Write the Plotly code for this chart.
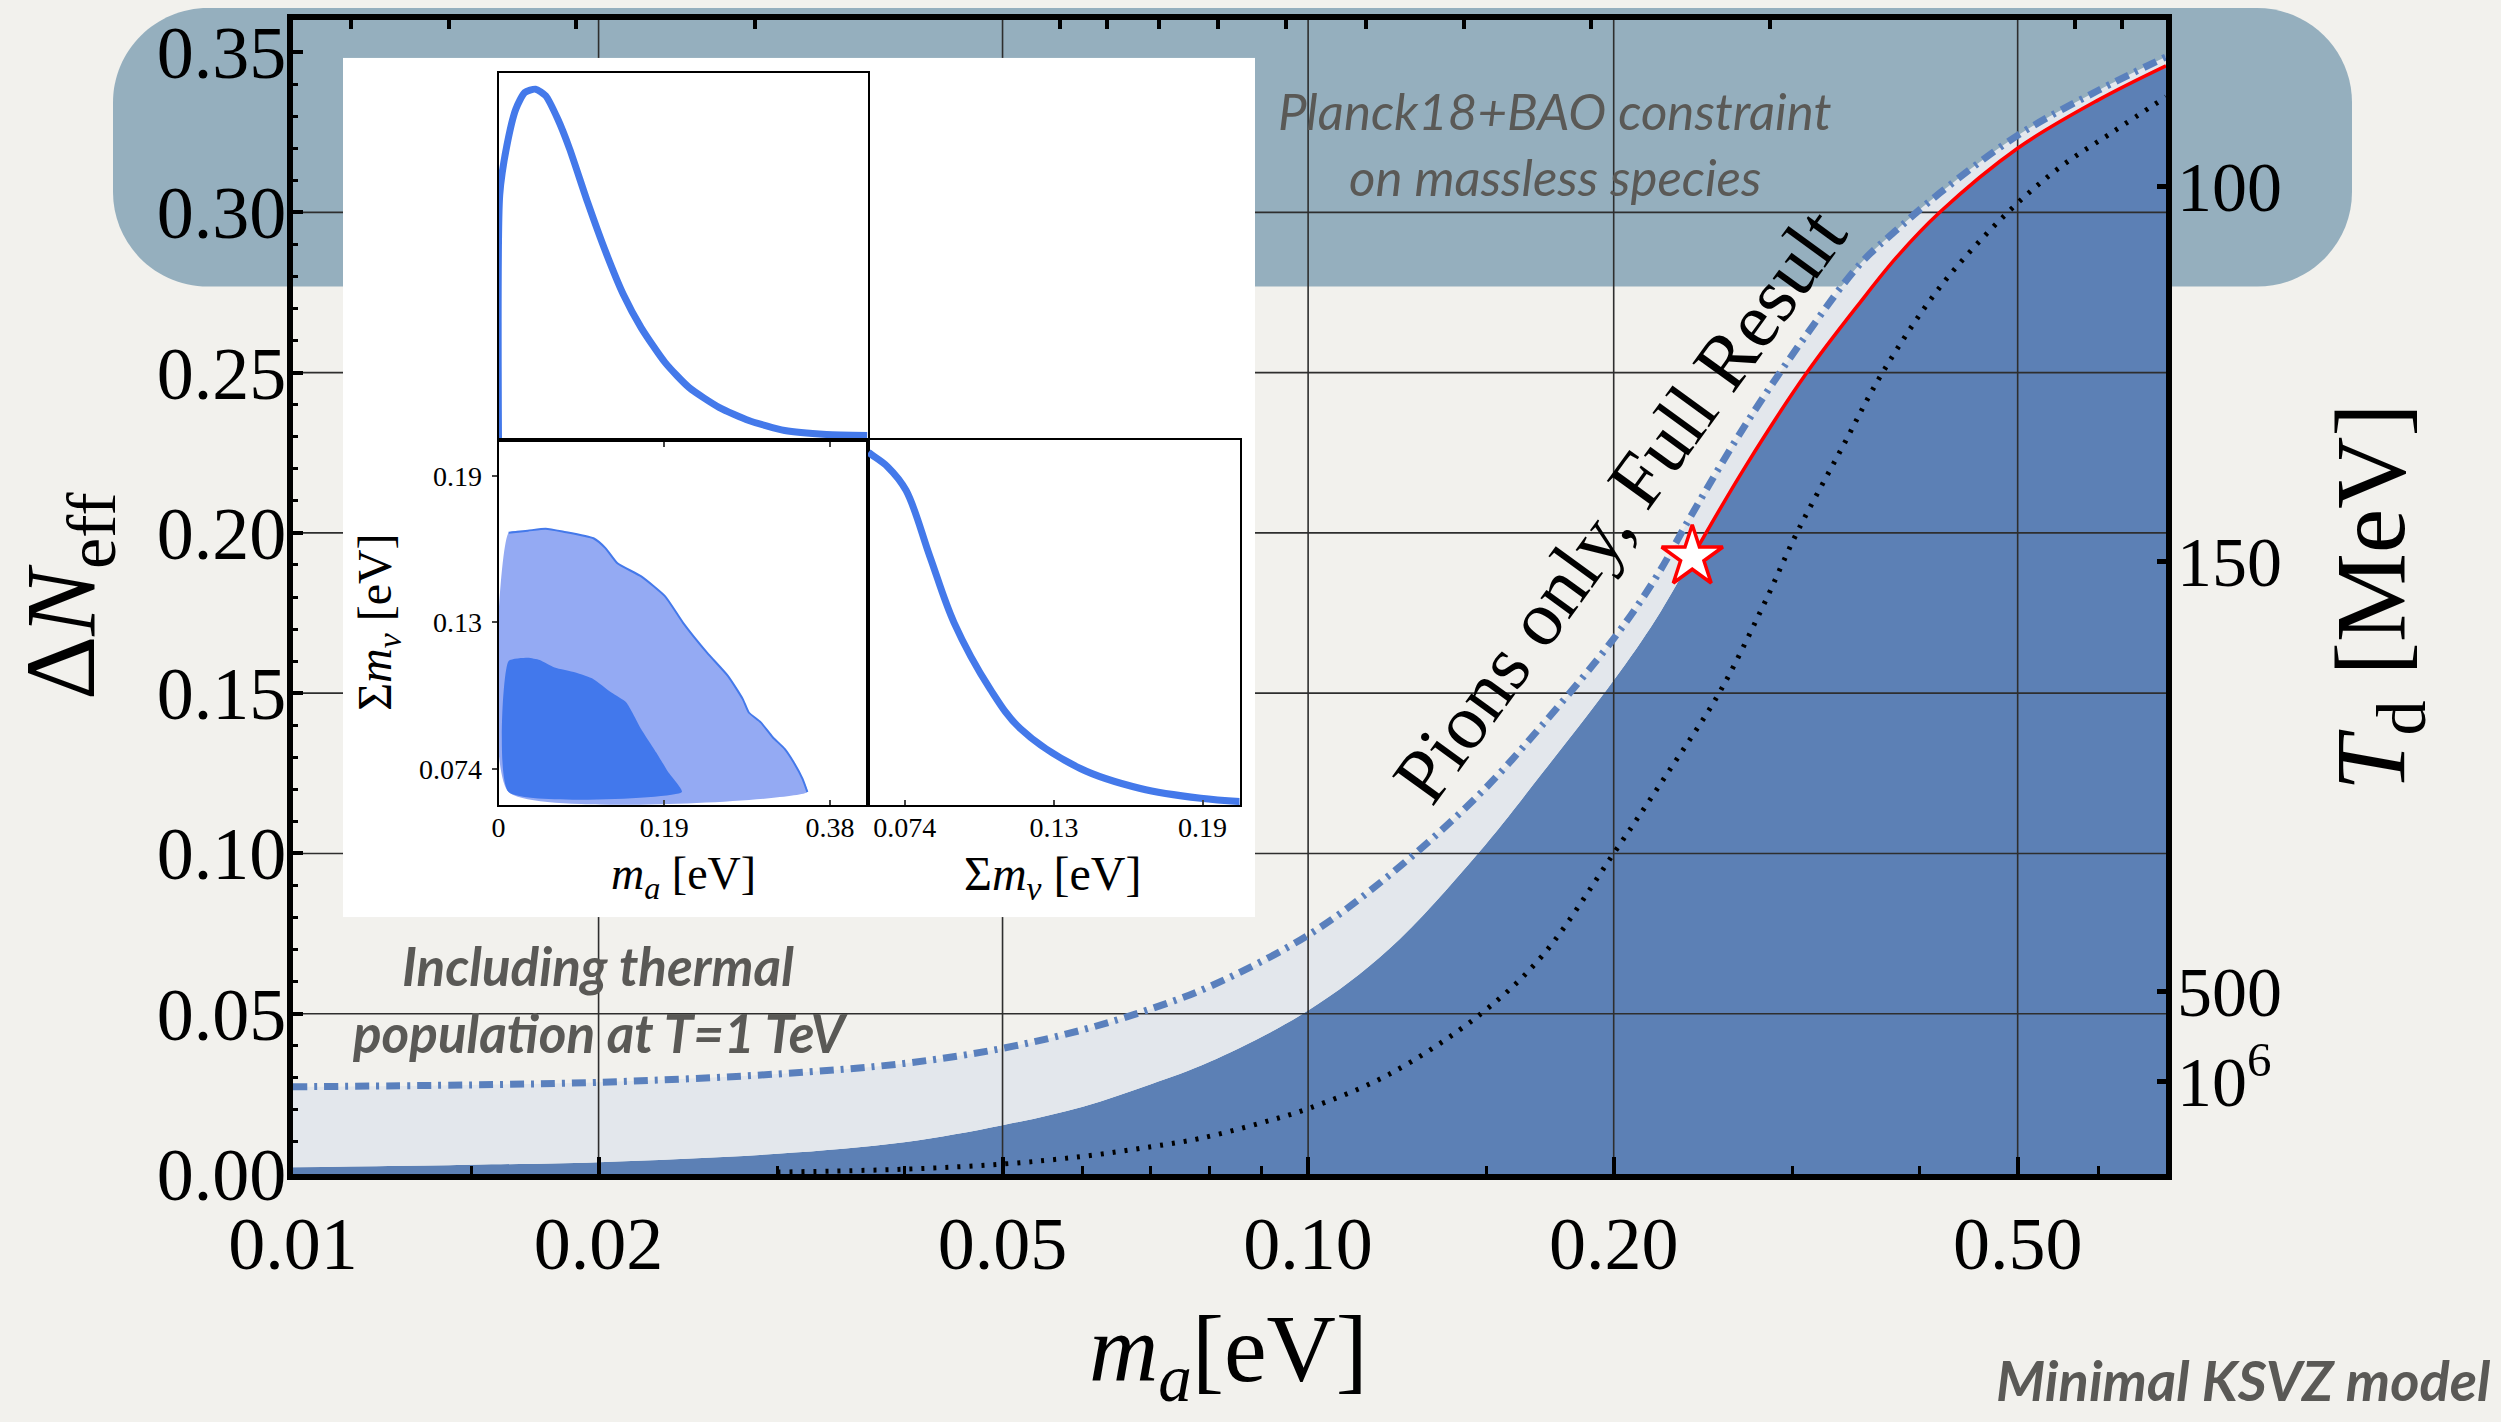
import numpy as np
import plotly.graph_objects as go

# ------------------------------------------------------------------ data
# main panel: axion mass m_a [eV]
m_a = [0.01, 0.015, 0.02, 0.03, 0.04, 0.05, 0.06, 0.07, 0.08, 0.1, 0.12, 0.147,
       0.17, 0.2, 0.22, 0.239, 0.27, 0.31, 0.35, 0.38, 0.419, 0.5, 0.6, 0.7]
# Full result (upper edge of dark band)
dneff_full = [0.0021, 0.0029, 0.0037, 0.0063, 0.0099, 0.0152, 0.021, 0.028, 0.035,
              0.051, 0.070, 0.100, 0.125, 0.154, 0.173, 0.1925, 0.221, 0.250, 0.272,
              0.286, 0.300, 0.320, 0.335, 0.3457]
# including thermal population at T = 1 TeV (dash-dot)
dneff_thermal = [0.0272, 0.0278, 0.0286, 0.0312, 0.0345, 0.0392, 0.045, 0.0515, 0.0585,
                 0.0745, 0.093, 0.118, 0.140, 0.167, 0.186, 0.206, 0.234, 0.262, 0.284,
                 0.2945, 0.306, 0.324, 0.338, 0.3485]
# red (validity region of full result)
m_a_red = [0.239, 0.27, 0.31, 0.35, 0.38, 0.419, 0.5, 0.6, 0.7]
dneff_red = [0.1925, 0.221, 0.250, 0.272, 0.286, 0.300, 0.320, 0.335, 0.3457]
# pions only (dotted)
m_a_pions = [0.03, 0.04, 0.05, 0.06, 0.07, 0.078, 0.09, 0.1, 0.12, 0.148, 0.17, 0.2,
             0.227, 0.254, 0.28, 0.303, 0.335, 0.368, 0.42, 0.489, 0.55, 0.62, 0.7]
dneff_pions = [0.0006, 0.0015, 0.0031, 0.0055, 0.0085, 0.011, 0.016, 0.0204, 0.031,
               0.050, 0.068, 0.100, 0.126, 0.150, 0.1765, 0.200, 0.226, 0.250, 0.277,
               0.300, 0.314, 0.325, 0.336]
star_m_a = [0.239]
star_dneff = [0.1925]

# axes
x_range = [0.01, 0.70]
y_range = [0.0, 0.36]
x_major = [0.01, 0.02, 0.05, 0.1, 0.2, 0.5]
x_major_text = ["0.01", "0.02", "0.05", "0.10", "0.20", "0.50"]
x_minor = [0.015, 0.03, 0.04, 0.06, 0.07, 0.08, 0.09, 0.15, 0.3, 0.4, 0.6]
y_major = [0.00, 0.05, 0.10, 0.15, 0.20, 0.25, 0.30, 0.35]
grid_x = [0.02, 0.05, 0.1, 0.2, 0.5]
grid_y = [0.05, 0.10, 0.15, 0.20, 0.25, 0.30]
# right axis: decoupling temperature T_d [MeV] at Delta N_eff positions
td_text = ["100", "150", "500", "10<sup>6</sup>"]
td_pos = [0.308, 0.191, 0.057, 0.029]
# top axis: f_a ticks [GeV], m_a = 5.70 eV * 1e6 GeV / f_a
fa_ticks_gev = [5e8, 4e8, 3e8, 2e8, 1e8, 9e7, 8e7, 7e7, 6e7, 5e7, 4e7, 3e7, 2e7, 1e7, 9e6]
ma_fa_const = 5.70e6

# inset: 1D posterior of m_a
ins_ma = [0.0, 0.0014, 0.0096, 0.0199, 0.0301, 0.0425, 0.0541, 0.0678, 0.0815, 0.1020,
          0.1226, 0.1431, 0.1636, 0.1910, 0.2184, 0.2527, 0.2869, 0.3280, 0.3759, 0.4225]
ins_ma_p = [0.0, 0.668, 0.803, 0.903, 0.948, 0.957, 0.939, 0.876, 0.794, 0.649,
            0.514, 0.396, 0.305, 0.210, 0.142, 0.088, 0.052, 0.0245, 0.0136, 0.0109]
# inset: 1D posterior of sum m_nu
ins_mnu = [0.0602, 0.0619, 0.0677, 0.0748, 0.0841, 0.0935, 0.1076, 0.1193, 0.1427,
           0.1661, 0.1896, 0.2053]
ins_mnu_p = [0.965, 0.956, 0.925, 0.861, 0.680, 0.499, 0.317, 0.209, 0.0997,
             0.045, 0.018, 0.009]
# inset: 2D contours (m_a, sum m_nu)
c95_ma = [0.0116, 0.0336, 0.0541, 0.0746, 0.1089, 0.1226, 0.1363, 0.1636, 0.1910, 0.2116,
          0.2390, 0.2629, 0.2800, 0.2869, 0.3006, 0.3143, 0.3280, 0.3383, 0.3485, 0.3540]
c95_mnu = [0.1678, 0.1686, 0.1694, 0.1682, 0.1656, 0.1617, 0.1557, 0.1505, 0.1426, 0.1321,
           0.1203, 0.1111, 0.1019, 0.0966, 0.0927, 0.0868, 0.0822, 0.0769, 0.0703, 0.0651]
c68_ma = [0.0116, 0.0336, 0.0472, 0.0644, 0.0883, 0.1089, 0.1294, 0.1465, 0.1636,
          0.1808, 0.1945, 0.2102]
c68_mnu = [0.1170, 0.1183, 0.1174, 0.1144, 0.1124, 0.1098, 0.1045, 0.1006, 0.0900,
           0.0808, 0.0730, 0.0651]
contour_floor = 0.0651
ins_ma_range = [0.0, 0.4235]
ins_mnu_range = [0.060, 0.2047]
ins_ma_ticks = [0.0, 0.19, 0.38]
ins_ma_ticktext = ["0", "0.19", "0.38"]
ins_mnu_ticks = [0.0743, 0.1324, 0.1903]
ins_mnu_ticktext = ["0.074", "0.13", "0.19"]

# ------------------------------------------------------------------ style / layout helpers
W, H = 2501, 1422
L, R, T, B = 293, 2166, 14, 1174          # main plot box (pixels)
SERIF = "Liberation Serif"
SANS = "Lato"
BG = "#f2f1ed"
BAND = "#95afbe"
DARK = "#5c80b5"
LIGHT = "#e3e7ec"
DASH = "#5a80bd"
INS = "#4479ea"
GRAY = "#5a5956"


def px_x(px):
    return (px - L) / (R - L)


def px_y(py):
    return (B - py) / (B - T)


def dom_x(p0, p1):
    return [px_x(p0), px_x(p1)]


def dom_y(top, bottom):
    return [px_y(bottom), px_y(top)]


fig = go.Figure()

# dark band (full result)
fig.add_trace(go.Scatter(x=m_a, y=dneff_full, mode="lines", line=dict(width=0, shape="spline"),
                         fill="tozeroy", fillcolor=DARK, xaxis="x", yaxis="y"))
# light band up to thermal-population curve
fig.add_trace(go.Scatter(x=m_a, y=dneff_thermal, mode="lines", line=dict(width=0, shape="spline"),
                         fill="tonexty", fillcolor=LIGHT, xaxis="x", yaxis="y"))
# grid lines drawn above the fills
gx, gy = [], []
for v in grid_x:
    gx += [v, v, None]
    gy += [y_range[0], y_range[1], None]
for v in grid_y:
    gx += [x_range[0], x_range[1], None]
    gy += [v, v, None]
fig.add_trace(go.Scatter(x=gx, y=gy, mode="lines", line=dict(color="#2e2e2e", width=1.6),
                         xaxis="x", yaxis="y"))
# dash-dot thermal curve
fig.add_trace(go.Scatter(x=m_a, y=dneff_thermal, mode="lines",
                         line=dict(color=DASH, width=7, dash="14px,7px,3px,7px", shape="spline"),
                         xaxis="x", yaxis="y"))
# pions only (dotted)
fig.add_trace(go.Scatter(x=m_a_pions, y=dneff_pions, mode="lines",
                         line=dict(color="black", width=5, dash="3px,9px", shape="spline"),
                         xaxis="x", yaxis="y"))
# red line
fig.add_trace(go.Scatter(x=m_a_red, y=dneff_red, mode="lines",
                         line=dict(color="#ff0000", width=3.5, shape="spline"), xaxis="x", yaxis="y"))
# star
fig.add_trace(go.Scatter(x=star_m_a, y=star_dneff, mode="markers",
                         marker=dict(symbol="star", size=46, color="white",
                                     line=dict(color="#ff0000", width=3.5)),
                         xaxis="x", yaxis="y"))
# overlay axes (top f_a ticks, right T_d ticks)
fig.add_trace(go.Scatter(x=[], y=[], xaxis="x2", yaxis="y"))
fig.add_trace(go.Scatter(x=[], y=[], xaxis="x", yaxis="y2"))

# inset background subplot
fig.add_trace(go.Scatter(x=[], y=[], xaxis="x3", yaxis="y3"))
# inset A: m_a posterior
fig.add_trace(go.Scatter(x=ins_ma, y=ins_ma_p, mode="lines",
                         line=dict(color=INS, width=7, shape="spline", smoothing=0.6),
                         xaxis="x4", yaxis="y4"))
# inset B: contours
c95_x = [c95_ma[0]] + c95_ma + [c95_ma[0]]
c95_y = [contour_floor] + c95_mnu + [contour_floor]
fig.add_trace(go.Scatter(x=c95_x, y=c95_y, mode="lines", fill="toself", fillcolor="#94aaf3",
                         line=dict(width=0, shape="spline", smoothing=0.5), xaxis="x5", yaxis="y5"))
fig.add_trace(go.Scatter(x=c95_ma, y=c95_mnu, mode="lines",
                         line=dict(color=INS, width=2, shape="spline", smoothing=0.5),
                         xaxis="x5", yaxis="y5"))
c68_x = [c68_ma[0]] + c68_ma + [c68_ma[0]]
c68_y = [contour_floor] + c68_mnu + [contour_floor]
fig.add_trace(go.Scatter(x=c68_x, y=c68_y, mode="lines", fill="toself", fillcolor="#4278ec",
                         line=dict(width=0, shape="spline", smoothing=0.5), xaxis="x5", yaxis="y5"))
# inset C: sum m_nu posterior
fig.add_trace(go.Scatter(x=ins_mnu, y=ins_mnu_p, mode="lines",
                         line=dict(color=INS, width=7, shape="spline"),
                         xaxis="x6", yaxis="y6"))

tickfont_main = dict(family=SERIF, size=74, color="black")
tickfont_ins = dict(family=SERIF, size=28, color="black")

ins_box = dict(showline=True, linecolor="black", linewidth=2, mirror=True,
               showgrid=False, zeroline=False)

layout = dict(
    width=W, height=H,
    margin=dict(l=L, r=W - R, t=T, b=H - B, pad=0),
    paper_bgcolor=BG, plot_bgcolor="rgba(0,0,0,0)",
    showlegend=False, hovermode=False,
    xaxis=dict(type="log", range=[np.log10(x_range[0]), np.log10(x_range[1])], domain=[0, 1],
               anchor="y", tickmode="array", tickvals=x_major, ticktext=x_major_text,
               ticks="inside", ticklen=17, tickwidth=3.5, tickcolor="black",
               minor=dict(tickmode="array", tickvals=x_minor, ticks="inside", ticklen=8,
                          tickwidth=3, tickcolor="black", showgrid=False),
               showgrid=False, zeroline=False, showline=True, linewidth=6, linecolor="black",
               mirror=True, tickfont=tickfont_main, ticklabelstandoff=0),
    yaxis=dict(range=y_range, domain=[0, 1], anchor="x", tickmode="array", tickvals=y_major,
               tickformat=".2f", ticks="inside", ticklen=10, tickwidth=3.5, tickcolor="black",
               minor=dict(dtick=0.01, ticks="inside", ticklen=5, tickwidth=3, tickcolor="black",
                          showgrid=False),
               showgrid=False, zeroline=False, showline=True, linewidth=6, linecolor="black",
               mirror=True, tickfont=tickfont_main, ticklabelstandoff=-14),
    xaxis2=dict(type="log", range=[np.log10(x_range[0]), np.log10(x_range[1])], overlaying="x",
                side="top", anchor="y", tickmode="array",
                tickvals=[ma_fa_const / f for f in fa_ticks_gev],
                ticks="inside", ticklen=9, tickwidth=4, tickcolor="black",
                showticklabels=False, showgrid=False, zeroline=False, showline=False),
    yaxis2=dict(range=y_range, overlaying="y", side="right", anchor="x", tickmode="array",
                tickvals=td_pos, ticktext=td_text, ticks="inside", ticklen=9, tickwidth=5,
                tickcolor="black", showgrid=False, zeroline=False, showline=False,
                tickfont=dict(family=SERIF, size=70, color="black"), ticklabelstandoff=10),
    # inset background
    xaxis3=dict(domain=dom_x(343, 1255), anchor="y3", range=[0, 1], visible=False),
    yaxis3=dict(domain=dom_y(52, 916), anchor="x3", range=[0, 1], visible=False),
    # inset A
    xaxis4=dict(domain=dom_x(498.5, 868), anchor="y4", range=ins_ma_range, tickmode="array",
                tickvals=ins_ma_ticks[1:], ticks="outside", ticklen=5, tickwidth=1.5,
                showticklabels=False, **ins_box),
    yaxis4=dict(domain=dom_y(67.7, 435.7), anchor="x4", range=[0, 1.0], ticks="",
                showticklabels=False, **ins_box),
    # inset B
    xaxis5=dict(domain=dom_x(498.5, 868), anchor="y5", range=ins_ma_range, tickmode="array",
                tickvals=ins_ma_ticks, ticktext=ins_ma_ticktext, ticks="inside", ticklen=5,
                tickwidth=1.5, tickfont=tickfont_ins, ticklabelstandoff=-4, **ins_box),
    yaxis5=dict(domain=dom_y(435.7, 803), anchor="x5", range=ins_mnu_range, tickmode="array",
                tickvals=ins_mnu_ticks, ticktext=ins_mnu_ticktext, ticks="outside", ticklen=5,
                tickwidth=1.5, tickfont=tickfont_ins, ticklabelstandoff=4, **ins_box),
    # inset C
    xaxis6=dict(domain=dom_x(868, 1239.5), anchor="y6", range=ins_mnu_range, tickmode="array",
                tickvals=ins_mnu_ticks, ticktext=ins_mnu_ticktext, ticks="inside", ticklen=5,
                tickwidth=1.5, tickfont=tickfont_ins, ticklabelstandoff=-4, **ins_box),
    yaxis6=dict(domain=dom_y(435.7, 803), anchor="x6", range=[0, 1.0], ticks="",
                showticklabels=False, **ins_box),
)
fig.update_layout(**layout)

# ---- Planck band (rounded rectangle behind the plot)
X0, X1 = px_x(113), px_x(2352)
YT, YB = px_y(2), px_y(282)
rx, ry = 95 / (R - L), 95 / (B - T)
k = 0.5523
path = (f"M {X0+rx},{YT} L {X1-rx},{YT} "
        f"C {X1-rx+k*rx},{YT} {X1},{YT-ry+k*ry} {X1},{YT-ry} "
        f"L {X1},{YB+ry} "
        f"C {X1},{YB+ry-k*ry} {X1-rx+k*rx},{YB} {X1-rx},{YB} "
        f"L {X0+rx},{YB} "
        f"C {X0+rx-k*rx},{YB} {X0},{YB+ry-k*ry} {X0},{YB+ry} "
        f"L {X0},{YT-ry} "
        f"C {X0},{YT-ry+k*ry} {X0+rx-k*rx},{YT} {X0+rx},{YT} Z")
shapes = [
    dict(type="path", path=path, xref="paper", yref="paper", fillcolor=BAND,
         line=dict(width=0), layer="below"),
    dict(type="rect", xref="x3", yref="y3", x0=0, x1=1, y0=0, y1=1, fillcolor="white",
         line=dict(width=0), layer="below"),
]
fig.update_layout(shapes=shapes)

annotations = [
    # axis titles
    dict(text="<i>m</i><sub><i>a</i></sub>[eV]", x=px_x(1228), y=px_y(1356), xref="paper",
         yref="paper", showarrow=False, xanchor="center", yanchor="middle",
         font=dict(family=SERIF, size=96, color="black")),
    dict(text="Δ<i>N</i><sub>eff</sub>", x=px_x(67), y=px_y(593), xref="paper", yref="paper",
         showarrow=False, textangle=-90, xanchor="center", yanchor="middle",
         font=dict(family=SERIF, size=100, color="black")),
    dict(text="<i>T</i><sub>d</sub> [MeV]", x=px_x(2377), y=px_y(594), xref="paper",
         yref="paper", showarrow=False, textangle=-90, xanchor="center", yanchor="middle",
         font=dict(family=SERIF, size=100, color="black")),
    # gray labels
    dict(text="Planck18+BAO constraint", x=px_x(1555), y=px_y(105), xref="paper", yref="paper",
         showarrow=False, xanchor="center", yanchor="middle",
         font=dict(family=SANS, size=51, color=GRAY, style="italic")),
    dict(text="on massless species", x=px_x(1555), y=px_y(171), xref="paper", yref="paper",
         showarrow=False, xanchor="center", yanchor="middle",
         font=dict(family=SANS, size=51, color=GRAY, style="italic")),
    dict(text="Including thermal", x=px_x(598), y=px_y(964), xref="paper", yref="paper",
         showarrow=False, xanchor="center", yanchor="middle",
         font=dict(family=SANS, size=53, color=GRAY, style="italic", weight=700)),
    dict(text="population at T=1 TeV", x=px_x(600), y=px_y(1032), xref="paper", yref="paper",
         showarrow=False, xanchor="center", yanchor="middle",
         font=dict(family=SANS, size=53, color=GRAY, style="italic", weight=700)),
    dict(text="Minimal KSVZ model", x=px_x(2493), y=px_y(1381), xref="paper", yref="paper",
         showarrow=False, xanchor="right", yanchor="middle",
         font=dict(family=SANS, size=56, color=GRAY, style="italic", weight=700)),
    # curve label
    dict(text="Pions only, Full Result", x=np.log10(0.2025), y=0.2086, xref="x", yref="y",
         showarrow=False, textangle=-54, xanchor="center", yanchor="middle",
         font=dict(family=SERIF, size=78, color="black")),
    # inset labels
    dict(text="<i>m</i><sub><i>a</i></sub> [eV]", x=px_x(683), y=px_y(875), xref="paper",
         yref="paper", showarrow=False, xanchor="center", yanchor="middle",
         font=dict(family=SERIF, size=46, color="black")),
    dict(text="Σ<i>m</i><sub><i>ν</i></sub> [eV]", x=px_x(1052), y=px_y(875), xref="paper",
         yref="paper", showarrow=False, xanchor="center", yanchor="middle",
         font=dict(family=SERIF, size=48, color="black")),
    dict(text="Σ<i>m</i><sub><i>ν</i></sub> [eV]", x=px_x(378), y=px_y(620), xref="paper",
         yref="paper", showarrow=False, textangle=-90, xanchor="center", yanchor="middle",
         font=dict(family=SERIF, size=48, color="black")),
]
fig.update_layout(annotations=annotations)

fig.write_html("out.html")
